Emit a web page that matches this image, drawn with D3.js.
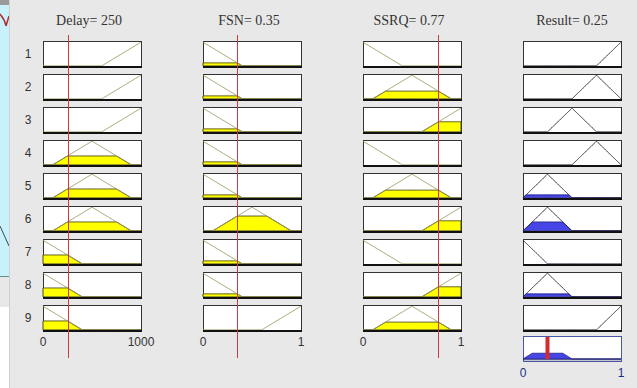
<!DOCTYPE html>
<html>
<head>
<meta charset="utf-8">
<script src="https://cdn.jsdelivr.net/npm/d3@7"></script>
<style>
  body { margin: 0; background: #e8e8e8; overflow: hidden; }
  svg { display: block; }
</style>
</head>
<body>
<script>
'use strict';

// input variables and their current values
const inputNames = ["Delay", "FSN", "SSRQ"];
const inputValues = [250, 0.35, 0.77];
const inputRanges = [[0, 1000], [0, 1], [0, 1]];
const inputTickLabels = [["0", "1000"], ["0", "1"], ["0", "1"]];

// triangular membership functions [a, b, c]
const delayMF = { low: [-400, 0, 400], medium: [100, 500, 900], high: [600, 1000, 1400] };
const fsnMF = { low: [-0.4, 0, 0.4], medium: [0.1, 0.5, 0.9], high: [0.6, 1, 1.4] };
const ssrqMF = { low: [-0.4, 0, 0.4], medium: [0.1, 0.5, 0.9], high: [0.6, 1, 1.4] };
const resultMF = {
    vlow: [-0.25, 0, 0.25], low: [0, 0.25, 0.5], medium: [0.25, 0.5, 0.75],
    high: [0.5, 0.75, 1], vhigh: [0.75, 1, 1.25]
};

// rule base (one entry per row)
const ruleNumbers = ["1", "2", "3", "4", "5", "6", "7", "8", "9"];
const ruleDelay = ["high", "high", "high", "medium", "medium", "medium", "low", "low", "low"];
const ruleFSN = ["low", "low", "low", "low", "low", "medium", "low", "low", "high"];
const ruleSSRQ = ["low", "medium", "high", "low", "medium", "high", "low", "high", "medium"];
const ruleResult = ["vhigh", "high", "medium", "high", "low", "low", "vlow", "low", "vhigh"];

// output
const resultName = "Result";
const resultValue = 0.25;
const resultRange = [0, 1];
const resultTickLabels = ["0", "1"];

(function () {

    const width = 637;
    const height = 388;

    const svg = d3.select("body").append("svg")
        .attr("width", width)
        .attr("height", height);

    svg.append("rect")
        .attr("width", width)
        .attr("height", height)
        .attr("fill", "#e8e8e8");

    // bit of the window behind, on the left edge
    drawBackWindow();

    // column and row layout
    let colScale = d3.scaleBand()
        .domain(["Delay", "FSN", "SSRQ", "Result"])
        .range([43, 621])
        .paddingInner(0.3875);

    let rowScale = d3.scaleBand()
        .domain(ruleNumbers)
        .range([41, 331])
        .paddingInner(0.212);

    const mfSets = [delayMF, fsnMF, ssrqMF];
    const ruleInputs = [ruleDelay, ruleFSN, ruleSSRQ];

    // triangular membership value
    function trimf(x, p) {
        let a = p[0], b = p[1], c = p[2];
        if (x <= a || x >= c) return 0;
        if (x <= b) return b === a ? 1 : (x - a) / (b - a);
        return c === b ? 1 : (c - x) / (c - b);
    }

    // sample x values over a range, keeping the corners of the triangle
    function samples(range, p) {
        let xs = d3.range(0, 201).map((i) => range[0] + (range[1] - range[0]) * i / 200);
        p.forEach((v) => { if (v > range[0] && v < range[1]) xs.push(v); });
        return xs.sort((a, b) => a - b);
    }

    // firing degree of each input term and each rule
    let degrees = ruleInputs.map((terms, k) =>
        terms.map((t) => trimf(inputValues[k], mfSets[k][t])));
    let strengths = ruleNumbers.map((r, i) => d3.min(degrees, (d) => d[i]));

    // row numbers
    svg.selectAll(".rownum")
        .data(ruleNumbers)
        .enter()
        .append("text")
        .attr("class", "rownum")
        .attr("x", 28)
        .attr("y", (d) => rowScale(d) + rowScale.bandwidth() / 2)
        .attr("dy", "0.35em")
        .attr("text-anchor", "middle")
        .style("font-family", "Liberation Sans, Arial, sans-serif")
        .style("font-size", "12px")
        .style("fill", "#333")
        .text((d) => d);

    // draw one membership box
    function drawBox(g, x, yTop, h, range, p, level, colors, yDomainTop) {
        let bw = colScale.bandwidth();
        let xs = d3.scaleLinear().domain(range).range([x, x + bw]);
        let ys = d3.scaleLinear().domain([-0.05, yDomainTop]).range([yTop + h, yTop]);

        g.append("rect")
            .attr("x", x + 0.5)
            .attr("y", yTop + 0.5)
            .attr("width", bw)
            .attr("height", h)
            .attr("fill", "#fff")
            .attr("stroke", colors.box)
            .attr("stroke-width", 1);

        let pts = samples(range, p);
        let line = d3.line().x((d) => xs(d[0])).y((d) => ys(d[1]));

        if (level > 0) {
            let area = d3.area()
                .x((d) => xs(d[0]))
                .y0(ys(0))
                .y1((d) => ys(d[1]));
            g.append("path")
                .datum(pts.map((v) => [v, Math.min(trimf(v, p), level)]))
                .attr("d", area)
                .attr("fill", colors.fill)
                .attr("stroke", colors.fillEdge)
                .attr("stroke-width", 1);
        }

        g.append("path")
            .datum(pts.map((v) => [v, trimf(v, p)]))
            .attr("d", line)
            .attr("fill", "none")
            .attr("stroke", colors.line)
            .attr("stroke-width", 1);

        // heavy bottom edge
        g.append("line")
            .attr("x1", x)
            .attr("x2", x + bw + 1)
            .attr("y1", yTop + h)
            .attr("y2", yTop + h)
            .attr("stroke", "#111")
            .attr("stroke-width", 2);
    }

    const inputColors = { box: "#333", fill: "#ffff00", fillEdge: "#4a4a10", line: "#9c9a62" };
    const outputColors = { box: "#333", fill: "#4646e6", fillEdge: "#24248a", line: "#2a2a3a" };

    // input columns
    inputNames.forEach((name, k) => {
        let x = colScale(name);
        let g = svg.append("g");

        ruleNumbers.forEach((r, i) => {
            let p = mfSets[k][ruleInputs[k][i]];
            drawBox(g, x, rowScale(r), rowScale.bandwidth(), inputRanges[k], p,
                degrees[k][i], inputColors, 1.05);
        });

        // title
        svg.append("text")
            .attr("x", x + colScale.bandwidth() / 2 - 3)
            .attr("y", 25)
            .attr("text-anchor", "middle")
            .style("font-family", "Liberation Serif, Times New Roman, serif")
            .style("font-size", "14px")
            .style("fill", "#333")
            .text(name + "= " + inputValues[k]);

        // tick labels
        svg.selectAll(".tick" + k)
            .data(inputTickLabels[k])
            .enter()
            .append("text")
            .attr("x", (d, i) => i === 0 ? x : x + colScale.bandwidth())
            .attr("y", 346)
            .attr("text-anchor", "middle")
            .style("font-family", "Liberation Sans, Arial, sans-serif")
            .style("font-size", "12px")
            .style("fill", "#333")
            .text((d) => d);

        // current input value
        let xs = d3.scaleLinear().domain(inputRanges[k]).range([x, x + colScale.bandwidth()]);
        svg.append("line")
            .attr("x1", Math.round(xs(inputValues[k])) + 0.5)
            .attr("x2", Math.round(xs(inputValues[k])) + 0.5)
            .attr("y1", 35)
            .attr("y2", 358)
            .attr("stroke", "#c83c3c")
            .attr("stroke-width", 1);
    });

    // output column
    let xr = colScale(resultName);
    let gr = svg.append("g");
    ruleNumbers.forEach((r, i) => {
        drawBox(gr, xr, rowScale(r), rowScale.bandwidth(), resultRange,
            resultMF[ruleResult[i]], strengths[i], outputColors, 1.05);
    });

    svg.append("text")
        .attr("x", xr + colScale.bandwidth() / 2)
        .attr("y", 25)
        .attr("text-anchor", "middle")
        .style("font-family", "Liberation Serif, Times New Roman, serif")
        .style("font-size", "14px")
        .style("fill", "#333")
        .text(resultName + "= " + resultValue);

    // aggregated output
    let aggTop = 336, aggH = 25;
    let bw = colScale.bandwidth();
    let xa = d3.scaleLinear().domain(resultRange).range([xr, xr + bw]);
    let ya = d3.scaleLinear().domain([0, 1.5]).range([aggTop + aggH - 2, aggTop]);

    gr.append("rect")
        .attr("x", xr + 0.5)
        .attr("y", aggTop + 0.5)
        .attr("width", bw)
        .attr("height", aggH)
        .attr("fill", "#fff")
        .attr("stroke", "#4a56a6")
        .attr("stroke-width", 1);

    gr.append("line")
        .attr("x1", xr + 1)
        .attr("x2", xr + bw)
        .attr("y1", ya(0) + 0.5)
        .attr("y2", ya(0) + 0.5)
        .attr("stroke", "#8a8a96")
        .attr("stroke-width", 2);

    let aggX = d3.range(0, 401).map((i) => resultRange[0] + (resultRange[1] - resultRange[0]) * i / 400);
    let aggPts = aggX.map((v) => [v, d3.max(ruleNumbers, (r, i) =>
        Math.min(trimf(v, resultMF[ruleResult[i]]), strengths[i]))]);

    gr.append("path")
        .datum(aggPts)
        .attr("d", d3.area().x((d) => xa(d[0])).y0(ya(0)).y1((d) => ya(d[1])))
        .attr("fill", "#4646e6")
        .attr("stroke", "#24248a")
        .attr("stroke-width", 1);

    gr.append("line")
        .attr("x1", xa(resultValue))
        .attr("x2", xa(resultValue))
        .attr("y1", aggTop + 1)
        .attr("y2", aggTop + aggH - 2)
        .attr("stroke", "#d42a2a")
        .attr("stroke-width", 4);

    svg.selectAll(".rtick")
        .data(resultTickLabels)
        .enter()
        .append("text")
        .attr("class", "rtick")
        .attr("x", (d, i) => i === 0 ? xr : xr + bw)
        .attr("y", 377)
        .attr("text-anchor", "middle")
        .style("font-family", "Liberation Sans, Arial, sans-serif")
        .style("font-size", "12px")
        .style("fill", "#1c2c86")
        .text((d) => d);

    function drawBackWindow() {
        svg.append("rect").attr("x", 0).attr("y", 0).attr("width", 9).attr("height", 5).attr("fill", "#9a9a9a");
        svg.append("rect").attr("x", 0).attr("y", 5).attr("width", 9).attr("height", 271).attr("fill", "#c8f2fb");
        svg.append("line").attr("x1", 0).attr("x2", 9).attr("y1", 276.5).attr("y2", 276.5).attr("stroke", "#6a8a90");
        svg.append("rect").attr("x", 0).attr("y", 307).attr("width", 9).attr("height", 81).attr("fill", "#fff");
        svg.append("path")
            .attr("d", "M0,14 Q5,20 6,26 M6,26 L9,16")
            .attr("fill", "none")
            .attr("stroke", "#b03030")
            .attr("stroke-width", 1.5);
        svg.append("path")
            .attr("d", "M0,226 L9,246")
            .attr("fill", "none")
            .attr("stroke", "#3a4a50")
            .attr("stroke-width", 1);
        svg.append("line").attr("x1", 9.5).attr("x2", 9.5).attr("y1", 0).attr("y2", 388).attr("stroke", "#d0d0d0");
    }

})();
</script>
</body>
</html>
